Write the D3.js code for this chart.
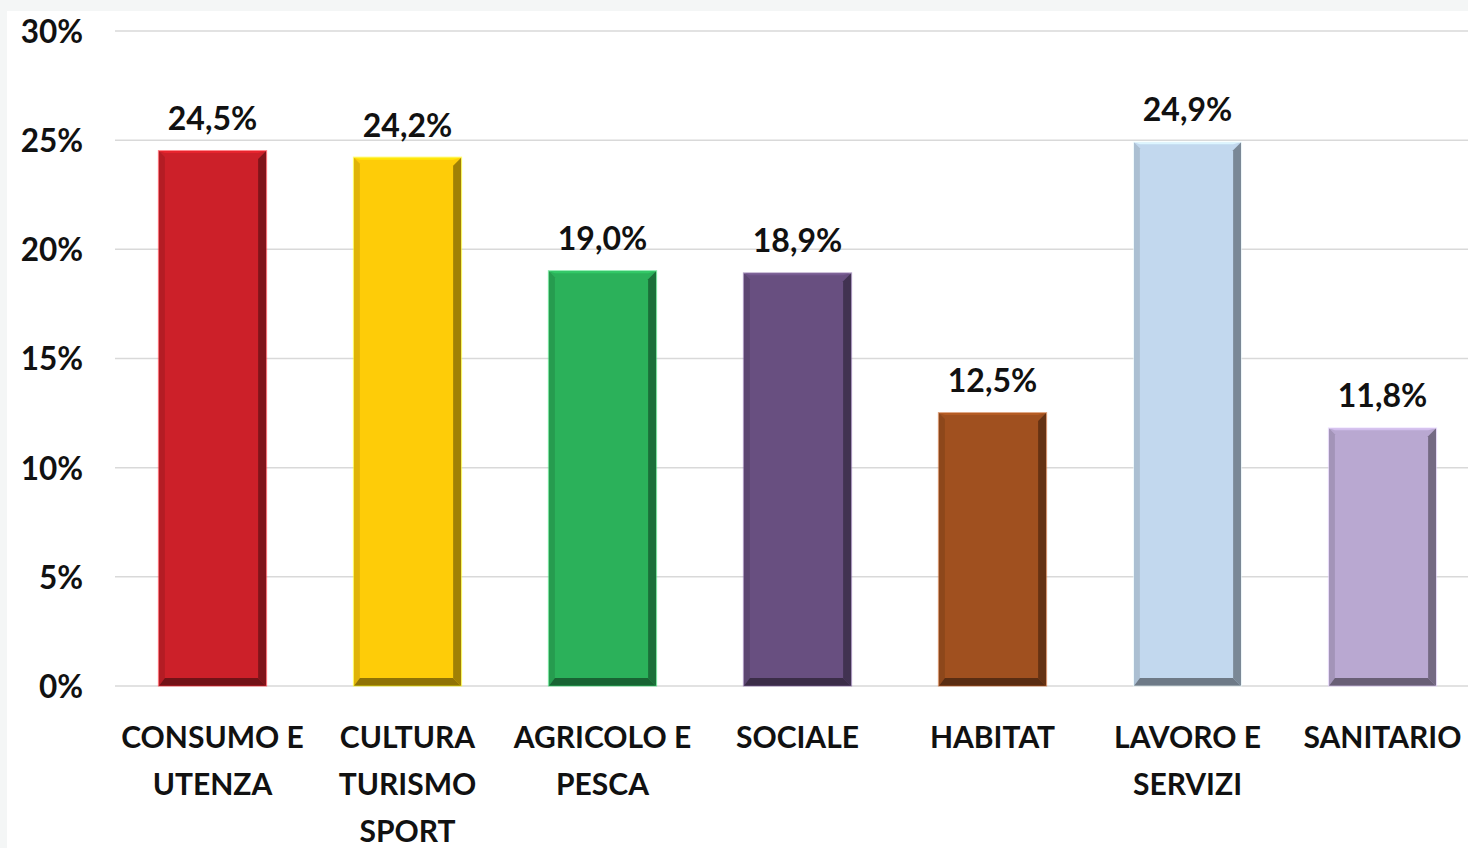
<!DOCTYPE html>
<html><head><meta charset="utf-8">
<script src="https://cdn.jsdelivr.net/npm/d3@7"></script>
<style>
html,body{margin:0;padding:0;background:#f4f6f6;}
svg{display:block;}
</style></head>
<body>
<svg id="chart" width="1468" height="848"></svg>
<script>
const categories = [["CONSUMO E","UTENZA"],["CULTURA","TURISMO","SPORT"],["AGRICOLO E","PESCA"],["SOCIALE"],["HABITAT"],["LAVORO E","SERVIZI"],["SANITARIO"]];
const values = [24.5, 24.2, 19.0, 18.9, 12.5, 24.9, 11.8];
const valueLabels = ["24,5%","24,2%","19,0%","18,9%","12,5%","24,9%","11,8%"];
const colors = ["#cc2029","#fecc08","#2bb15a","#684f80","#a0501f","#c2d8ee","#b9a8d1"];
const yTicks = [0,5,10,15,20,25,30];

const W = 1468, H = 848;
const svg = d3.select("#chart");
svg.append("rect").attr("x",7).attr("y",11).attr("width",W-7).attr("height",H-11).attr("fill","#ffffff");

const font = "Lato, 'Open Sans', sans-serif";
const x = d3.scaleBand().domain(d3.range(values.length)).range([115, 1480]).paddingInner(0.45).paddingOuter(0.225);
const y = d3.scaleLinear().domain([0,30]).range([686, 31]);

// grid
const g = svg.append("g");
g.selectAll("line.grid").data(yTicks).join("line")
  .attr("x1",115).attr("x2",W).attr("y1",d=>y(d)).attr("y2",d=>y(d))
  .attr("stroke","#d9d9d9").attr("stroke-width",1.5);

// y axis labels
const yAxis = d3.axisLeft(y).tickValues(yTicks).tickFormat(d=>d+"%").tickSize(0).tickPadding(0);
const ya = svg.append("g").attr("transform","translate(83,0)").call(yAxis);
ya.select(".domain").remove();
ya.selectAll("text").attr("font-family",font).attr("font-weight","bold").attr("font-size",31.5).attr("fill","#111").attr("dy","0.36em");

// bars
const bw = x.bandwidth();
const bars = svg.append("g").selectAll("g.bar").data(values).join("g");
bars.each(function(v,i){
  const gg = d3.select(this);
  const x0 = x(i), x1 = x(i)+bw, y0 = y(v), y1 = y(0);
  const c = d3.color(colors[i]);
  const lw = 6, rw = 8, bh = 8, th = 2;
  gg.append("rect").attr("x",x0).attr("y",y0).attr("width",bw).attr("height",y1-y0).attr("fill",c.formatHex());
  gg.append("polygon").attr("points",[[x0,y0],[x1,y0],[x1-rw,y0+th],[x0+lw,y0+th]].join(" ")).attr("fill",c.brighter(0.35).formatHex());
  gg.append("polygon").attr("points",[[x0,y0],[x0+lw,y0+lw],[x0+lw,y1-bh],[x0,y1]].join(" ")).attr("fill",c.darker(0.35).formatHex());
  gg.append("polygon").attr("points",[[x1,y0],[x1-rw,y0+rw],[x1-rw,y1-bh],[x1,y1]].join(" ")).attr("fill",c.darker(1.3).formatHex());
  gg.append("polygon").attr("points",[[x0,y1],[x0+lw,y1-bh],[x1-rw,y1-bh],[x1,y1]].join(" ")).attr("fill",c.darker(1.6).formatHex());
  gg.append("rect").attr("x",x0-0.5).attr("y",y0-0.5).attr("width",bw+1).attr("height",y1-y0+0.5).attr("fill","none").attr("stroke",c.brighter(0.6).formatHex()).attr("stroke-width",1).attr("stroke-opacity",0.6);
});

// value labels
svg.append("g").selectAll("text").data(values).join("text")
  .attr("x",(d,i)=>x(i)+bw/2).attr("y",d=>y(d)-21)
  .attr("text-anchor","middle").attr("font-family",font).attr("font-weight","bold").attr("font-size",32).attr("fill","#111")
  .text((d,i)=>valueLabels[i]);

// category labels
const cl = svg.append("g").selectAll("text").data(categories).join("text")
  .attr("x",(d,i)=>x(i)+bw/2).attr("y",748)
  .attr("text-anchor","middle").attr("font-family",font).attr("font-weight","bold").attr("font-size",30).attr("fill","#111");
cl.each(function(lines,i){
  const t = d3.select(this);
  lines.forEach((l,j)=>t.append("tspan").attr("x",x(i)+bw/2).attr("y",748+j*47).text(l));
});
</script>
</body></html>
